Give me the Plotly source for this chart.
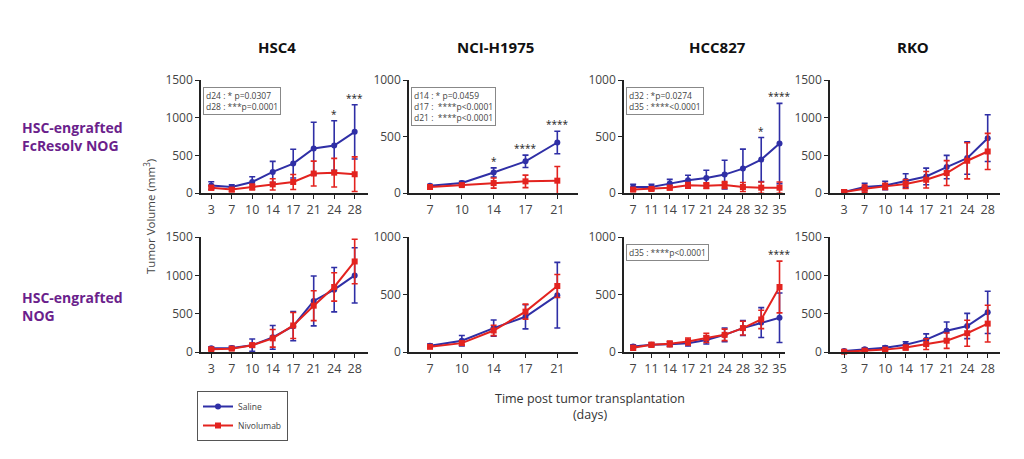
import plotly.graph_objects as go

# ---------------- data ----------------
panel_titles = ["HSC4", "NCI-H1975", "HCC827", "RKO"]
row_labels = ["HSC-engrafted<br>FcResolv NOG", "HSC-engrafted<br>NOG"]
series_names = ["Saline", "Nivolumab"]

days_hsc4 = [3, 7, 10, 14, 17, 21, 24, 28]
days_h1975 = [7, 10, 14, 17, 21]
days_hcc827 = [7, 11, 14, 17, 21, 24, 28, 32, 35]
days_rko = [3, 7, 10, 14, 17, 21, 24, 28]

# Row 1: HSC-engrafted FcResolv NOG
hsc4_fc_saline = [100, 80, 146, 280, 390, 590, 630, 812]
hsc4_fc_saline_sd = [50, 30, 70, 140, 190, 350, 330, 360]
hsc4_fc_nivo = [70, 45, 80, 115, 146, 258, 270, 249]
hsc4_fc_nivo_sd = [30, 25, 40, 75, 100, 165, 190, 230]

h1975_fc_saline = [65, 88, 182, 280, 447]
h1975_fc_saline_sd = [10, 15, 40, 55, 100]
h1975_fc_nivo = [53, 70, 88, 103, 109]
h1975_fc_nivo_sd = [10, 10, 45, 55, 125]

hcc827_fc_saline = [53, 53, 83, 112, 133, 163, 216, 296, 438]
hcc827_fc_saline_sd = [25, 25, 38, 45, 68, 127, 172, 195, 355]
hcc827_fc_nivo = [30, 36, 47, 68, 65, 71, 53, 47, 47]
hcc827_fc_nivo_sd = [15, 15, 20, 25, 25, 30, 40, 50, 50]

rko_fc_saline = [13, 80, 100, 163, 220, 344, 463, 728]
rko_fc_saline_sd = [30, 50, 55, 92, 110, 155, 215, 310]
rko_fc_nivo = [13, 57, 88, 119, 176, 265, 428, 551]
rko_fc_nivo_sd = [20, 50, 40, 60, 110, 165, 240, 240]

# Row 2: HSC-engrafted NOG
hsc4_nog_saline = [49, 53, 89, 191, 337, 666, 813, 999]
hsc4_nog_saline_sd = [20, 20, 80, 155, 190, 325, 290, 360]
hsc4_nog_nivo = [36, 44, 89, 178, 346, 604, 848, 1181]
hsc4_nog_nivo_sd = [15, 15, 25, 115, 170, 195, 185, 290]

h1975_nog_saline = [54, 98, 208, 306, 494]
h1975_nog_saline_sd = [15, 45, 70, 105, 285]
h1975_nog_nivo = [45, 77, 187, 351, 574]
h1975_nog_nivo_sd = [10, 15, 45, 65, 100]

hcc827_nog_saline = [48, 63, 68, 77, 104, 149, 208, 256, 298]
hcc827_nog_saline_sd = [15, 15, 20, 25, 35, 60, 65, 130, 215]
hcc827_nog_nivo = [36, 63, 71, 92, 122, 149, 208, 283, 565]
hcc827_nog_nivo_sd = [20, 20, 25, 30, 40, 50, 60, 80, 225]

rko_nog_saline = [13, 36, 54, 94, 161, 277, 339, 517]
rko_nog_saline_sd = [10, 20, 25, 40, 75, 115, 165, 275]
rko_nog_nivo = [4, 18, 31, 58, 103, 147, 245, 370]
rko_nog_nivo_sd = [10, 15, 20, 30, 70, 100, 170, 240]

y_max = [1500, 1000, 1000, 1500]

# significance: (row, col, day, stars)
stars = [
    (0, 0, 24, "*"), (0, 0, 28, "***"),
    (0, 1, 14, "*"), (0, 1, 17, "****"), (0, 1, 21, "****"),
    (0, 2, 32, "*"), (0, 2, 35, "****"),
    (1, 2, 35, "****"),
]
pvalue_boxes = {
    (0, 0): "d24 : * p=0.0307<br>d28 : ***p=0.0001",
    (0, 1): "d14 : * p=0.0459<br>d17 :  ****p<0.0001<br>d21 :  ****p<0.0001",
    (0, 2): "d32 : *p=0.0274<br>d35 : ****<0.0001",
    (1, 2): "d35 : ****p<0.0001",
}

days = [days_hsc4, days_h1975, days_hcc827, days_rko]
data = [
    [(hsc4_fc_saline, hsc4_fc_saline_sd, hsc4_fc_nivo, hsc4_fc_nivo_sd),
     (h1975_fc_saline, h1975_fc_saline_sd, h1975_fc_nivo, h1975_fc_nivo_sd),
     (hcc827_fc_saline, hcc827_fc_saline_sd, hcc827_fc_nivo, hcc827_fc_nivo_sd),
     (rko_fc_saline, rko_fc_saline_sd, rko_fc_nivo, rko_fc_nivo_sd)],
    [(hsc4_nog_saline, hsc4_nog_saline_sd, hsc4_nog_nivo, hsc4_nog_nivo_sd),
     (h1975_nog_saline, h1975_nog_saline_sd, h1975_nog_nivo, h1975_nog_nivo_sd),
     (hcc827_nog_saline, hcc827_nog_saline_sd, hcc827_nog_nivo, hcc827_nog_nivo_sd),
     (rko_nog_saline, rko_nog_saline_sd, rko_nog_nivo, rko_nog_nivo_sd)],
]

# ---------------- layout ----------------
W, H = 1024, 459
BLUE = "#2f2fa6"
RED = "#e3231f"
FONT = "Open Sans"

col_px = [(201, 368), (409, 578), (624, 785), (830, 1000)]
col_xrange = [(-0.5, 7.65), (-0.66, 4.65), (-0.5, 8.3), (-0.69, 7.6)]
row_px = [(80, 193), (237, 352)]
title_x = [277, 495, 717, 913]

fig = go.Figure()
layout = dict(
    template="none",
    width=W, height=H, margin=dict(l=0, r=0, t=0, b=0, pad=0, autoexpand=False),
    paper_bgcolor="white", plot_bgcolor="white",
    font=dict(family=FONT, color="#444"),
    showlegend=True,
)
annotations = []

idx = 0
for r in range(2):
    for c in range(4):
        idx += 1
        xa = "x" if idx == 1 else f"x{idx}"
        ya = "y" if idx == 1 else f"y{idx}"
        xkey = "xaxis" if idx == 1 else f"xaxis{idx}"
        ykey = "yaxis" if idx == 1 else f"yaxis{idx}"
        pos = list(range(len(days[c])))
        s, s_sd, n, n_sd = data[r][c]
        for vals, sds, color, sym, name in [
            (s, s_sd, BLUE, "circle", series_names[0]),
            (n, n_sd, RED, "square", series_names[1]),
        ]:
            fig.add_trace(go.Scatter(
                x=pos, y=vals, xaxis=xa, yaxis=ya,
                mode="lines+markers", name=name,
                legendgroup=name, showlegend=(idx == 1),
                line=dict(color=color, width=2),
                marker=dict(color=color, symbol=sym, size=6),
                error_y=dict(type="data", array=sds, visible=True,
                             color=color, thickness=1.6, width=3),
                cliponaxis=False,
            ))
        x0, x1 = col_px[c]
        yt, yb = row_px[r]
        layout[xkey] = dict(
            domain=[x0 / W, x1 / W], anchor=ya, automargin=False,
            tickvals=pos, ticktext=[str(d) for d in days[c]],
            range=list(col_xrange[c]),
            showline=True, linecolor="#222", linewidth=1.5,
            ticks="outside", ticklen=4, tickwidth=1.2, tickcolor="#222",
            showgrid=False, zeroline=False,
            tickfont=dict(size=12.5, color="#444", family=FONT),
        )
        layout[ykey] = dict(
            domain=[1 - yb / H, 1 - yt / H], anchor=xa, automargin=False,
            range=[0, y_max[c]], tickvals=list(range(0, y_max[c] + 1, 500)),
            showline=True, linecolor="#222", linewidth=1.5,
            ticks="outside", ticklen=4, tickwidth=1.2, tickcolor="#222",
            showgrid=False, zeroline=False,
            tickfont=dict(size=12, color="#444", family=FONT),
        )
        if (r, c) in pvalue_boxes:
            annotations.append(dict(
                xref=f"{xa} domain", yref=f"{ya} domain",
                x=0.01, y=0.94, xanchor="left", yanchor="top",
                text=pvalue_boxes[(r, c)], showarrow=False, align="left",
                font=dict(size=8.5, color="#444", family=FONT),
                bordercolor="#888", borderwidth=1, borderpad=2,
                bgcolor="white",
            ))

# significance stars
for (r, c, day, st) in stars:
    idx = r * 4 + c + 1
    xa = "x" if idx == 1 else f"x{idx}"
    ya = "y" if idx == 1 else f"y{idx}"
    s, s_sd, n, n_sd = data[r][c]
    i = days[c].index(day)
    top = max(s[i] + s_sd[i], n[i] + n_sd[i])
    annotations.append(dict(
        xref=xa, yref=ya, x=i, y=top, yanchor="bottom",
        yshift=-2, text=st, showarrow=False,
        font=dict(size=10, color="#222", family=FONT),
    ))

# panel titles
for c, t in enumerate(panel_titles):
    annotations.append(dict(
        xref="paper", yref="paper", x=title_x[c] / W, y=1 - 47 / H,
        text=f"<b>{t}</b>", showarrow=False, xanchor="center", yanchor="middle",
        font=dict(size=15, color="#111", family=FONT),
    ))

# row labels
for r, (lab, yc) in enumerate(zip(row_labels, [136, 306])):
    annotations.append(dict(
        xref="paper", yref="paper", x=20 / W, y=1 - yc / H,
        text=f"<b>{lab}</b>", showarrow=False, xanchor="left", yanchor="middle",
        align="left", font=dict(size=14, color="#6b1f8c", family=FONT),
    ))

# axis titles
annotations.append(dict(
    xref="paper", yref="paper", x=149 / W, y=1 - 217 / H,
    text="Tumor Volume (mm<sup>3</sup>)", showarrow=False, textangle=-90,
    xanchor="center", yanchor="middle",
    font=dict(size=11.5, color="#444", family=FONT),
))
annotations.append(dict(
    xref="paper", yref="paper", x=590 / W, y=1 - 406 / H,
    text="Time post tumor transplantation<br>(days)", showarrow=False,
    xanchor="center", yanchor="middle", align="center",
    font=dict(size=12.5, color="#333", family=FONT),
))

layout["annotations"] = annotations
layout["legend"] = dict(
    x=197 / W, y=1 - 391 / H, xanchor="left", yanchor="top",
    bordercolor="#555", borderwidth=1, bgcolor="white",
    font=dict(size=8.5, color="#444", family=FONT),
    itemwidth=30, tracegroupgap=0,
)
fig.update_layout(**layout)
fig.write_html(
    "out.html",
    config={"displayModeBar": False},
    post_script=("document.documentElement.style.margin='0';"
                 "document.body.style.margin='0';"
                 "document.body.style.padding='0';"
                 "document.documentElement.style.overflow='hidden';"),
)
